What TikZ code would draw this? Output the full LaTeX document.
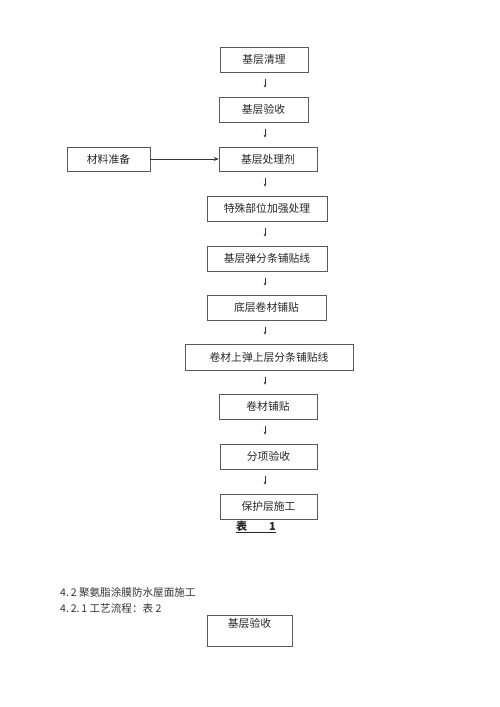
\documentclass[tikz,border=0pt]{standalone}
\usepackage{fontspec}
\setmainfont{Noto Sans CJK SC}
\usetikzlibrary{arrows.meta}
\tikzset{
  flowbox/.style={draw=black!65, line width=0.6pt, minimum height=25pt, inner sep=0pt, font=\fontsize{10.8}{12}\selectfont, text=black!85},
  smallarr/.style={draw=black!80, line width=0.5pt, -{Stealth[length=3pt,width=2.6pt]}, shorten <=7pt, shorten >=9pt},
  sidearr/.style={draw=black!80, line width=0.6pt, -{Stealth[length=5pt,width=4pt]}},
  plaintext/.style={inner sep=0pt, font=\fontsize{10.6}{12}\selectfont, text=black!80, anchor=west}
}
\begin{document}
\begin{tikzpicture}[x=1pt,y=-1pt]
\useasboundingbox (0,0) rectangle (500,707);
\coordinate (ax) at (265,0);
\node[flowbox, minimum width=88pt] (b1) at (264,59.5) {基层清理};
\node[flowbox, minimum width=89pt] (b2) at (263.5,109.5) {基层验收};
\node[flowbox, minimum width=98pt, minimum height=24pt] (b3) at (268,159) {基层处理剂};
\node[flowbox, minimum width=83pt, minimum height=24pt] (m) at (108.5,159) {材料准备};
\node[flowbox, minimum width=120pt] (b4) at (267,208.5) {特殊部位加强处理};
\node[flowbox, minimum width=120pt] (b5) at (267,258.5) {基层弹分条铺贴线};
\node[flowbox, minimum width=119pt] (b6) at (266.5,307.5) {底层卷材铺贴};
\node[flowbox, minimum width=168pt, minimum height=26pt] (b7) at (269,357) {卷材上弹上层分条铺贴线};
\node[flowbox, minimum width=98pt] (b8) at (268,406.5) {卷材铺贴};
\node[flowbox, minimum width=97pt] (b9) at (268.5,456.5) {分项验收};
\node[flowbox, minimum width=97pt] (b10) at (268.5,506.5) {保护层施工};

\foreach \a/\b in {b1/b2,b2/b3,b3/b4,b4/b5,b5/b6,b6/b7,b7/b8,b8/b9,b9/b10}
  \draw[smallarr] (\a.south -| ax) -- (\b.north -| ax);
\draw[sidearr] (m.east) -- (b3.west);

\node[inner sep=0pt, font=\fontsize{11}{12}\selectfont\bfseries, text=black!85] (cap) at (256,527) {\underline{表\hspace{22pt}1}};

\node[plaintext] (t1) at (60,592) {4.\,2 聚氨脂涂膜防水屋面施工};
\node[plaintext] (t2) at (60,608) {4.\,2.\,1 工艺流程：表 2};

\node[draw=black!65, line width=0.6pt, minimum width=85pt, minimum height=31pt, inner sep=0pt] (b11) at (249.5,630.5) {};
\node[inner sep=0pt, font=\fontsize{10.8}{12}\selectfont, text=black!85] (b11t) at (249.5,623) {基层验收};
\end{tikzpicture}
\end{document}
